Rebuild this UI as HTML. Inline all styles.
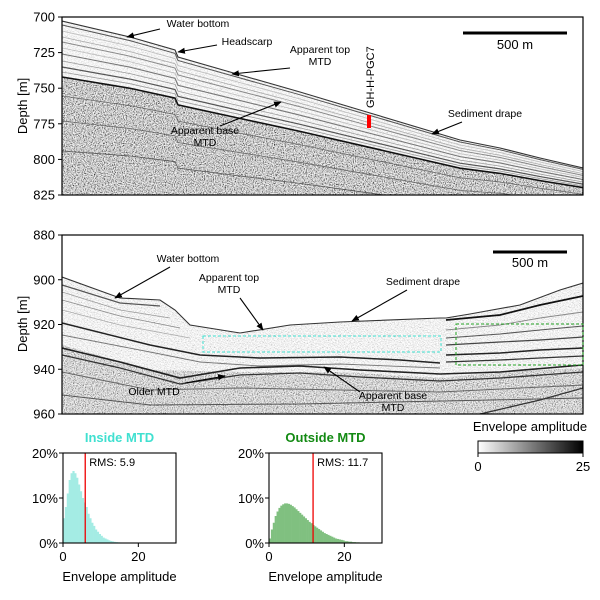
<!DOCTYPE html>
<html><head><meta charset="utf-8"><style>
html,body{margin:0;padding:0;background:#fff;}
svg{display:block;font-family:"Liberation Sans",Arial,sans-serif;}
</style></head><body>
<svg id="fig" width="600" height="600" viewBox="0 0 600 600">
<defs>
<filter id="noise" x="0" y="0" width="100%" height="100%">
<feTurbulence type="fractalNoise" baseFrequency="0.9" numOctaves="2" seed="3" result="t"/>
<feColorMatrix type="matrix" values="2.4 0 0 0 -0.7  2.4 0 0 0 -0.7  2.4 0 0 0 -0.7  0 0 0 0 1"/>
</filter>
<filter id="noise2" x="0" y="0" width="100%" height="100%">
<feTurbulence type="fractalNoise" baseFrequency="0.7 1.2" numOctaves="2" seed="7"/>
<feColorMatrix type="matrix" values="2.2 0 0 0 -0.4  2.2 0 0 0 -0.4  2.2 0 0 0 -0.4  0 0 0 0 1"/>
</filter>
<clipPath id="clipTop"><rect x="62" y="17" width="521" height="178"/></clipPath>
<clipPath id="clipMid"><rect x="62" y="235" width="521" height="179"/></clipPath>
<linearGradient id="cbar" x1="0" x2="1" y1="0" y2="0"><stop offset="0" stop-color="#fff"/><stop offset="1" stop-color="#000"/></linearGradient>
<marker id="arr" viewBox="0 0 10 10" refX="9" refY="5" markerWidth="7" markerHeight="7" orient="auto"><path d="M0,1 L10,5 L0,9 Z" fill="#000"/></marker>
</defs>
<g id="topPanel" clip-path="url(#clipTop)"></g>
<g id="midPanel" clip-path="url(#clipMid)"></g>
<g id="overlay"></g>
</svg>
<script>
// Histogram data (percent per 0.5-unit bin)
const inBins = [0.5,1,1.5,2,2.5,3,3.5,4,4.5,5,5.5,6,6.5,7,7.5,8,8.5,9,9.5,10,10.5,11,11.5,12,12.5,13,13.5,14,14.5,15,15.5,16,16.5,17];
const inVals = [5.5,8,11,14,15.5,16,15.5,14.5,13,11.5,10,9,8,6.5,5.5,4.5,3.8,3,2.5,2,1.6,1.2,1,0.8,0.6,0.45,0.35,0.25,0.2,0.15,0.12,0.1,0.07,0.05];
const outBins = [0.5,1,1.5,2,2.5,3,3.5,4,4.5,5,5.5,6,6.5,7,7.5,8,8.5,9,9.5,10,10.5,11,11.5,12,12.5,13,13.5,14,14.5,15,15.5,16,16.5,17,17.5,18,18.5,19,19.5,20,21,22,23,24,25,26,27,28];
const outVals = [1,3,4.5,6,7,7.8,8.3,8.6,8.8,8.8,8.7,8.5,8.2,7.9,7.5,7.1,6.7,6.3,5.9,5.5,5.1,4.7,4.4,4,3.7,3.4,3.1,2.8,2.5,2.2,2,1.8,1.6,1.4,1.2,1,0.9,0.8,0.7,0.6,0.4,0.3,0.2,0.15,0.1,0.07,0.05,0.03];
const rmsIn = 5.9, rmsOut = 11.7;
const histYTicks = [0,10,20];
const histXTicks = [0,20];

const NS="http://www.w3.org/2000/svg";
const svg=document.getElementById('fig');
const ov=document.getElementById('overlay');
function el(tag,attrs,parent,text){const e=document.createElementNS(NS,tag);for(const k in attrs)e.setAttribute(k,attrs[k]);if(text!==undefined)e.textContent=text;(parent||ov).appendChild(e);return e;}
function pts(a){return a.map(p=>p[0]+','+p[1]).join(' ');}

// ---------- top panel ----------
const tp=document.getElementById('topPanel');
const sfTop=[[62,21],[130,37],[175,50],[178,57],[230,72],[300,92],[360,110],[420,128],[460,140],[500,148],[540,158],[583,168]];
function shiftTop(d){return sfTop.map(p=>{const f=1-0.65*(p[0]-62)/521;return [p[0],p[1]+d*f];});}
let poly=sfTop.concat([[583,200],[62,200]]);
let r=el('polygon',{points:pts(poly),fill:'#fff'},tp);

const cpT=el('clipPath',{id:'sedTop'},svg.querySelector('defs'));el('polygon',{points:pts(poly)},cpT);
el('rect',{x:62,y:17,width:521,height:183,filter:'url(#noise2)',opacity:0.3,'clip-path':'url(#sedTop)'},tp);
const deep=shiftTop(56).concat([[583,200],[62,200]]);
const cpD=el('clipPath',{id:'deepTop'},svg.querySelector('defs'));el('polygon',{points:pts(deep)},cpD);
el('rect',{x:62,y:17,width:521,height:183,filter:'url(#noise)','clip-path':'url(#deepTop)',opacity:0.72},tp);
const topLayers=[[4,'#555',1],[10,'#bbb',0.8],[16,'#aaa',0.8],[21,'#888',1],[27,'#bbb',0.8],[33,'#777',1.1],[40,'#999',0.8],[46,'#555',1.2],[51,'#999',0.8],[56,'#111',1.6],[75,'#666',0.8],[100,'#666',0.8],[130,'#555',0.8]];
topLayers.forEach(l=>{el('polyline',{points:pts(shiftTop(l[0])),fill:'none',stroke:l[1],'stroke-width':l[2]},tp);});
el('polyline',{points:pts(sfTop),fill:'none',stroke:'#333','stroke-width':1.1},tp);

// ---------- middle panel ----------
const mp=document.getElementById('midPanel');
const sfMid=[[62,277],[120,298],[160,300],[175,310],[190,325],[240,333],[290,325],[340,322],[440,318],[446,318],[470,314],[520,305],[560,290],[583,283]];
const mpoly=sfMid.concat([[583,420],[62,420]]);
el('polygon',{points:pts(mpoly),fill:'#fff'},mp);
const cpM=el('clipPath',{id:'sedMid'},svg.querySelector('defs'));el('polygon',{points:pts(mpoly)},cpM);
el('rect',{x:62,y:235,width:521,height:185,filter:'url(#noise2)',opacity:0.35,'clip-path':'url(#sedMid)'},mp);
const mdeep=[[62,345],[150,370],[240,372],[340,372],[440,378],[500,372],[583,368],[583,420],[62,420]];
const cpMD=el('clipPath',{id:'deepMid'},svg.querySelector('defs'));el('polygon',{points:pts(mdeep)},cpMD);
el('rect',{x:62,y:235,width:521,height:185,filter:'url(#noise)',opacity:0.5,'clip-path':'url(#deepMid)'},mp);
const midLines=[
 [[[62,285],[120,303],[160,306]],'#555',1.2],
 [[[62,292],[120,310],[170,318]],'#999',0.8],
 [[[62,300],[120,316],[180,328]],'#888',0.8],
 [[[62,310],[120,325],[190,338]],'#aaa',0.8],
 [[[62,323],[150,345],[200,355],[260,358],[340,357],[400,360],[440,363]],'#222',1.5],
 [[[62,335],[150,352],[200,362],[260,366],[340,364],[440,368]],'#777',0.9],
 [[[62,348],[120,362],[180,378],[240,368],[300,366],[360,370],[440,374],[500,372],[583,365]],'#222',1.6],
 [[[62,355],[120,368],[180,384],[240,375],[300,373],[360,377],[440,381],[500,378],[583,372]],'#333',1.3],
 [[[62,372],[150,390],[240,388],[340,390],[440,392],[583,385]],'#666',1],
 [[[62,395],[150,405],[300,404],[583,398]],'#555',1],
 [[[446,320],[500,315],[540,305],[583,296]],'#111',1.8],
 [[[446,330],[500,325],[540,318],[583,312]],'#888',0.9],
 [[[446,338],[500,334],[540,330],[583,326]],'#555',1.1],
 [[[446,345],[500,342],[540,340],[583,337]],'#444',1.2],
 [[[446,355],[500,353],[540,350],[583,348]],'#222',1.5],
 [[[446,362],[500,360],[540,358],[583,356]],'#333',1.3],
 [[[480,414],[540,400],[583,388]],'#333',1.3]
];
midLines.forEach(l=>{el('polyline',{points:pts(l[0]),fill:'none',stroke:l[1],'stroke-width':l[2]},mp);});
el('polyline',{points:pts(sfMid),fill:'none',stroke:'#333','stroke-width':1.1},mp);

// ---------- frames & axes ----------
function frame(x,y,w,h,name){const f=el('rect',{x:x,y:y,width:w,height:h,fill:'none',stroke:'#000','stroke-width':1.2});}
frame(62,17,521,178,'top-panel-frame');
frame(62,235,521,179,'middle-panel-frame');
const topTicks=[700,725,750,775,800,825];
topTicks.forEach(v=>{const y=17+(v-700)/125*178;el('line',{x1:58,x2:62,y1:y,y2:y,stroke:'#000'});const t=el('text',{x:55,y:y+4.5,'text-anchor':'end','font-size':13},ov,v);});
const midTicks=[880,900,920,940,960];
midTicks.forEach(v=>{const y=235+(v-880)/80*179;el('line',{x1:58,x2:62,y1:y,y2:y,stroke:'#000'});const t=el('text',{x:55,y:y+4.5,'text-anchor':'end','font-size':13},ov,v);});
let yt=el('text',{x:0,y:0,transform:'translate(27,106) rotate(-90)','text-anchor':'middle','font-size':13},ov,'Depth [m]');
yt=el('text',{x:0,y:0,transform:'translate(27,324) rotate(-90)','text-anchor':'middle','font-size':13},ov,'Depth [m]');

el('line',{x1:463,x2:567,y1:33,y2:33,stroke:'#000','stroke-width':3});
let sb=el('text',{x:515,y:49,'text-anchor':'middle','font-size':13},ov,'500 m');
el('line',{x1:493,x2:567,y1:252,y2:252,stroke:'#000','stroke-width':3});
sb=el('text',{x:530,y:267,'text-anchor':'middle','font-size':13},ov,'500 m');

function ann(lines,cx,cy,ax1,ay1,ax2,ay2,name){const t=el('text',{x:cx,y:cy,'text-anchor':'middle','font-size':10.5});lines.forEach((s,i)=>{el('tspan',{x:cx,dy:i?12:0},t,s);});el('line',{x1:ax1,y1:ay1,x2:ax2,y2:ay2,stroke:'#000','stroke-width':1.1,'marker-end':'url(#arr)'});}
ann(['Water bottom'],198,27,160,29,127,37,'top-water-bottom-label');
ann(['Headscarp'],247,45,217,45,178,52,'top-headscarp-label');
ann(['Apparent top','MTD'],320,53,290,68,232,74,'top-apparent-top-label');
ann(['Apparent base','MTD'],205,134,220,126,281,102,'top-apparent-base-label');
ann(['Sediment drape'],485,117,462,122,432,134,'top-sediment-drape-label');
ann(['Water bottom'],188,262,170,267,115,298,'middle-water-bottom-label');
ann(['Apparent top','MTD'],229,281,240,298,263,330,'middle-apparent-top-label');
ann(['Sediment drape'],423,285,407,290,352,321,'middle-sediment-drape-label');
ann(['Older MTD'],154,395,185,383,225,376,'middle-older-mtd-label');
ann(['Apparent base','MTD'],393,399,360,392,324,367,'middle-apparent-base-label');
let gh=el('text',{x:0,y:0,transform:'translate(374,108) rotate(-90)','font-size':11},ov,'GH-H-PGC7');
el('rect',{x:367,y:115,width:4,height:13,fill:'#f00'});
el('rect',{x:203,y:336,width:238,height:16,fill:'none',stroke:'#40e0d0','stroke-width':1,'stroke-dasharray':'3,2'});
el('rect',{x:456,y:324,width:127,height:41,fill:'none',stroke:'#20a020','stroke-width':1,'stroke-dasharray':'3,2'});

// ---------- histograms ----------
function hist(x0,w,bins,vals,color,rms,title,tcolor,name){
 const y0=543,h=90;
 const xs=v=>x0+v*w/30, ys=p=>y0-p*h/20;
 const g=el('g',{});
 bins.forEach((b,i)=>{const bw=(i+1<bins.length?bins[i+1]-b:0.5);const bar=el('rect',{x:xs(b-bw),y:ys(vals[i]),width:xs(b)-xs(b-bw)+0.3,height:y0-ys(vals[i]),fill:color},g);});
 el('line',{x1:xs(rms),x2:xs(rms),y1:y0-h,y2:y0,stroke:'#e00','stroke-width':1.3},g);
 el('rect',{x:x0,y:y0-h,width:w,height:h,fill:'none',stroke:'#000','stroke-width':1.1},g);
 histYTicks.forEach(p=>{el('line',{x1:x0-4,x2:x0,y1:ys(p),y2:ys(p),stroke:'#000'},g);el('text',{x:x0-5,y:ys(p)+5,'text-anchor':'end','font-size':13},g,p+'%');});
 histXTicks.forEach(v=>{el('line',{x1:xs(v),x2:xs(v),y1:y0,y2:y0+4,stroke:'#000'},g);el('text',{x:xs(v),y:y0+18,'text-anchor':'middle','font-size':13},g,v);});
 el('text',{x:x0+w/2,y:y0+38,'text-anchor':'middle','font-size':13},g,'Envelope amplitude');
 el('text',{x:xs(rms)+4,y:y0-h+13,'font-size':11},g,'RMS: '+rms);
 el('text',{x:x0+w/2,y:y0-h-11,'text-anchor':'middle','font-size':13,'font-weight':'bold',fill:tcolor},g,title);
}
hist(63,113,inBins,inVals,'#a4ece4',rmsIn,'Inside MTD','#40e0d0','inside-mtd-histogram');
hist(269,113,outBins,outVals,'#80c080',rmsOut,'Outside MTD','#138a13','outside-mtd-histogram');

const cb=el('rect',{x:478,y:441,width:105,height:12,fill:'url(#cbar)',stroke:'#000','stroke-width':1});
el('line',{x1:478,x2:478,y1:453,y2:457,stroke:'#000'});el('line',{x1:583,x2:583,y1:453,y2:457,stroke:'#000'});
el('text',{x:478,y:471,'text-anchor':'middle','font-size':13},ov,'0');
el('text',{x:583,y:471,'text-anchor':'middle','font-size':13},ov,'25');
const cbt=el('text',{x:530,y:431,'text-anchor':'middle','font-size':13},ov,'Envelope amplitude');
</script>
</body></html>
